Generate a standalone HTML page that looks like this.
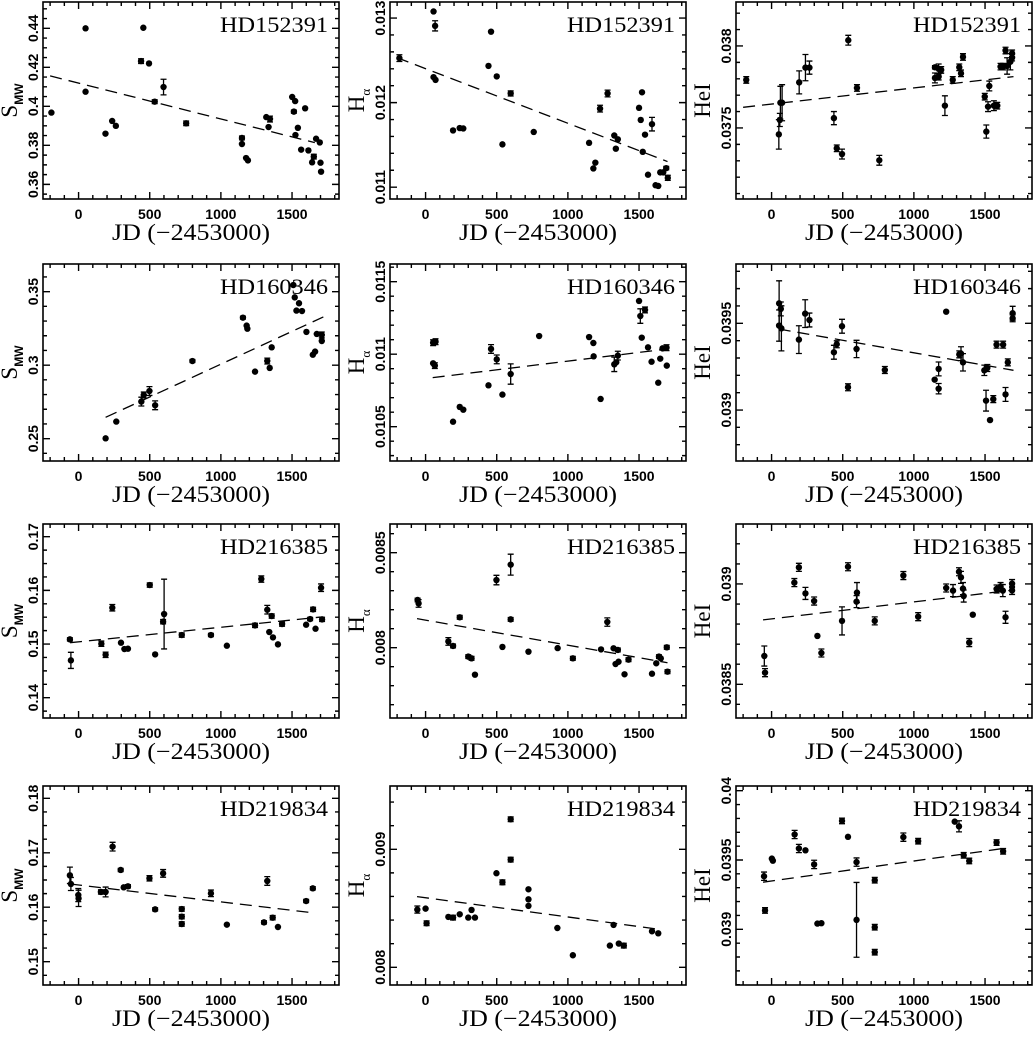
<!DOCTYPE html>
<html><head><meta charset="utf-8"><title>Activity indices vs JD</title>
<style>
html,body{margin:0;padding:0;background:#fff;}
svg{display:block;}
.tk{font-family:"Liberation Sans",sans-serif;font-weight:bold;font-size:14px;fill:#000;}
.sr{font-family:"Liberation Serif",serif;fill:#000;}
</style></head>
<body>
<svg id="fig" xmlns="http://www.w3.org/2000/svg" width="1033" height="1037" viewBox="0 0 1033 1037"></svg>
<script>
// ---------- shared x-axis data ----------
const xTicks = [0, 500, 1000, 1500];
const xTickLabels = ["0", "500", "1000", "1500"];
const xDomain = [-250, 1830];

// ---------- Panel 1: S_MW HD152391 ----------
const p1x = [-191,49,49,189,236,262,439,455,495,535,597,756,1148,1148,1177,1190,1319,1345,1335,1501,1522,1513,1541,1524,1592,1564,1615,1653,1641,1669,1695,1700,1704];
const p1y = [0.3968,0.44,0.4075,0.386,0.3925,0.390,0.4232,0.4403,0.422,0.4024,0.4099,0.3913,0.3838,0.3807,0.3735,0.3723,0.3945,0.3935,0.3894,0.4048,0.4027,0.3973,0.389,0.3853,0.399,0.3778,0.3774,0.3742,0.3713,0.3834,0.3815,0.3711,0.3665];
const p1e = [0,0,0,0,0,0,0.0012,0,0,0.001,0.004,0.0012,0.001,0,0,0,0,0.0015,0,0,0,0.0008,0,0,0,0,0,0.0012,0,0,0,0,0];
const p1fit = [[-200,0.4156],[1660,0.3814]];
const p1yTicks = [0.36,0.38,0.40,0.42,0.44];
const p1yLabels = ["0.36","0.38","0.4","0.42","0.44"];

// ---------- Panel 2: H_alpha HD152391 ----------
const p2x = [-184,56,67,56,70,193,240,265,442,460,500,540,598,760,1149,1179,1193,1226,1279,1326,1351,1337,1500,1521,1512,1526,1542,1591,1563,1616,1635,1649,1670,1691,1702];
const p2y = [0.012526,0.013078,0.012908,0.012301,0.012269,0.011671,0.011699,0.011694,0.012434,0.012839,0.01231,0.011506,0.012108,0.011653,0.011524,0.011221,0.01129,0.011929,0.012108,0.011611,0.011566,0.011455,0.011938,0.012122,0.011795,0.011418,0.011621,0.011745,0.011147,0.011023,0.011014,0.011175,0.011175,0.011225,0.01111];
const p2e = [0.00004,0,0.00006,0,0,0,0,0,0,0,0,0,0.00003,0,0,0,0,0.00004,0.00004,0,0,0,0,0,0,0,0,0.00008,0,0,0,0,0,0.00002,0.00003];
const p2fit = [[-200,0.012531],[1700,0.011303]];
const p2yTicks = [0.011,0.012,0.013];
const p2yLabels = ["0.011","0.012","0.013"];

// ---------- Panel 3: HeI HD152391 ----------
const p3x = [-178,51,58,62,74,194,238,266,438,458,495,539,600,757,1148,1148,1174,1174,1192,1218,1273,1319,1331,1345,1498,1509,1521,1530,1562,1586,1609,1627,1644,1655,1678,1690,1690];
const p3y = [0.037793,0.037461,0.037549,0.037654,0.037654,0.037778,0.037868,0.037868,0.03756,0.037376,0.037341,0.038035,0.037744,0.037303,0.03787,0.037805,0.037813,0.03786,0.037854,0.037636,0.037793,0.03787,0.037833,0.037933,0.037691,0.037478,0.03763,0.037756,0.037636,0.037636,0.037874,0.037874,0.037972,0.037878,0.037904,0.037955,0.037929];
const p3e = [0.00002,0.00009,0.00004,0.0001,0.00011,0.00007,0.00008,0.00004,0.00004,0.00002,0.00003,0.00003,0.00002,0.00003,0.00001,0.00003,0.00002,0.00003,0.00002,0.00006,0.00002,0.00002,0.00002,0.00002,0.00002,0.00004,0.00003,0.00003,0.00003,0.00002,0.00002,0.00002,0.00002,0.00005,0.00005,0.00002,0.00002];
const p3fit = [[-200,0.037626],[1700,0.037813]];
const p3yTicks = [0.0375,0.038];
const p3yLabels = ["0.0375","0.038"];

// ---------- Panel 4: S_MW HD160346 ----------
const p4x = [190,265,441,458,498,538,800,1155,1181,1186,1240,1326,1343,1357,1509,1519,1531,1549,1570,1601,1646,1662,1674,1709,1709];
const p4y = [0.2502,0.2616,0.2752,0.2797,0.2824,0.2727,0.3028,0.3323,0.3269,0.3248,0.2956,0.3028,0.2981,0.3121,0.3545,0.3461,0.3371,0.3421,0.3368,0.3226,0.3071,0.3092,0.3212,0.3205,0.3164];
const p4e = [0,0,0.003,0.002,0.003,0.003,0.001,0.001,0,0,0,0.002,0,0,0,0,0,0,0,0,0,0,0,0.002,0];
const p4fit = [[190,0.2645],[1720,0.3328]];
const p4yTicks = [0.25,0.30,0.35];
const p4yLabels = ["0.25","0.3","0.35"];

// ---------- Panel 5: H_alpha HD160346 ----------
const p5x = [53,70,53,65,193,240,265,442,460,500,540,598,798,1149,1179,1181,1230,1326,1340,1351,1500,1509,1542,1519,1563,1588,1635,1649,1665,1693,1695];
const p5y = [0.011079,0.011086,0.010937,0.010921,0.010534,0.010636,0.010617,0.010785,0.011036,0.010964,0.010721,0.010863,0.011125,0.011118,0.011077,0.010985,0.010691,0.01093,0.010944,0.01099,0.011367,0.011263,0.011305,0.011114,0.011047,0.010948,0.010803,0.010969,0.01104,0.011045,0.010921];
const p5e = [0.00002,0.00002,0,0.00002,0,0,0,0,0.00003,0.00003,0,0.00007,0,0,0,0,0,0.00005,0,0.00003,0,0.00005,0.00002,0,0,0,0,0,0,0.00002,0];
const p5fit = [[50,0.010838],[1700,0.011036]];
const p5yTicks = [0.0105,0.011,0.0115];
const p5yLabels = ["0.0105","0.011","0.0115"];

// ---------- Panel 6: HeI HD160346 ----------
const p6x = [53,53,65,69,192,236,266,438,458,495,537,597,796,1146,1174,1174,1227,1319,1331,1345,1495,1516,1507,1558,1535,1581,1627,1644,1660,1694,1694];
const p6y = [0.039615,0.039487,0.039583,0.039471,0.039406,0.039556,0.039519,0.039333,0.039379,0.039483,0.039131,0.039352,0.039231,0.039175,0.039237,0.039123,0.039567,0.039321,0.039325,0.039275,0.039229,0.039242,0.039054,0.039063,0.038942,0.039377,0.039377,0.03909,0.039275,0.039558,0.039529];
const p6e = [0.00013,0.00009,0.00004,0.00013,0.00008,0.00008,0.00004,0.00004,0.00002,0.00004,0.00002,0.00005,0.00002,0,0.00004,0.00003,0,0.00002,0.00004,0.00005,0.00003,0.00002,0.00006,0.00002,0,0.00002,0.00002,0.00004,0.00002,0.00004,0.00002];
const p6fit = [[50,0.039467],[1700,0.039229]];
const p6yTicks = [0.039,0.0395];
const p6yLabels = ["0.039","0.0395"];

// ---------- Panel 7: S_MW HD216385 ----------
const p7x = [-61,-54,160,190,237,298,322,347,500,538,594,601,725,930,1042,1240,1284,1326,1340,1357,1366,1401,1430,1599,1627,1648,1665,1704,1711];
const p7y = [0.15087,0.14696,0.15006,0.148,0.15677,0.15025,0.14907,0.14913,0.161,0.14807,0.15416,0.15559,0.15168,0.15168,0.14969,0.15348,0.16211,0.1564,0.15224,0.15522,0.15124,0.14994,0.15373,0.1536,0.15466,0.15646,0.15286,0.1605,0.1546];
const p7e = [0.0003,0.0015,0.0005,0.0005,0.0006,0,0,0,0.0004,0,0.0004,0.0065,0.0004,0.0003,0,0.0004,0.0006,0.0008,0,0.0004,0,0,0.0004,0,0.0003,0.0004,0,0.0007,0.0004];
const p7fit = [[-60,0.15025],[1700,0.15503]];
const p7yTicks = [0.14,0.15,0.16,0.17];
const p7yLabels = ["0.14","0.15","0.16","0.17"];

// ---------- Panel 8: H_alpha HD216385 ----------
const p8x = [-56,-49,160,193,240,300,323,347,498,540,598,598,723,928,1035,1233,1277,1321,1351,1335,1356,1426,1398,1591,1621,1640,1653,1695,1700];
const p8y = [0.008251,0.008233,0.008033,0.008009,0.00816,0.007953,0.007944,0.007858,0.008356,0.008004,0.008437,0.008149,0.007979,0.007998,0.007944,0.007991,0.008135,0.007997,0.007988,0.007914,0.007926,0.007937,0.00786,0.007863,0.007918,0.007953,0.007944,0.008002,0.007874];
const p8e = [0.00001,0.00002,0.00002,0.00001,0.00001,0.00001,0.00001,0,0.000025,0,0.000055,0.00001,0,0,0.00001,0,0.000022,0,0.00001,0,0,0.00001,0,0,0,0.00001,0,0.00001,0.00001];
const p8fit = [[-60,0.008153],[1700,0.007921]];
const p8yTicks = [0.008,0.0085];
const p8yLabels = ["0.008","0.0085"];

// ---------- Panel 9: HeI HD216385 ----------
const p9x = [-51,-46,160,192,238,299,322,350,495,537,600,597,725,926,1030,1227,1275,1317,1331,1345,1350,1389,1414,1581,1609,1625,1644,1690,1690];
const p9y = [0.038641,0.038558,0.039007,0.039083,0.038953,0.038915,0.038741,0.038656,0.038816,0.039086,0.038957,0.038912,0.038816,0.039042,0.038837,0.03898,0.038967,0.039061,0.039033,0.038977,0.03894,0.038708,0.038847,0.038975,0.038987,0.038967,0.038834,0.039002,0.038968];
const p9e = [0.00005,0.00002,0.00002,0.00002,0.00003,0.00002,0,0.00002,0.00007,0.00002,0.00005,0.00003,0.00002,0.00002,0.00002,0.00002,0.00003,0.00002,0.00003,0.00003,0.00003,0.00002,0,0.00002,0.00002,0.00003,0.00003,0.00002,0.00002];
const p9fit = [[-60,0.038821],[1700,0.03897]];
const p9yTicks = [0.0385,0.039];
const p9yLabels = ["0.0385","0.039"];

// ---------- Panel 10: S_MW HD219834 ----------
const p10x = [-61,-54,-2,0,157,190,239,296,317,347,498,538,594,725,725,725,930,1042,1303,1326,1364,1401,1599,1646];
const p10y = [0.16586,0.16427,0.16224,0.16163,0.1628,0.1628,0.17112,0.16684,0.16365,0.16384,0.16531,0.15961,0.16622,0.15967,0.15827,0.15692,0.16255,0.1568,0.15722,0.16482,0.15808,0.15637,0.16114,0.16347];
const p10e = [0.0015,0.0012,0.0012,0.0015,0.0004,0.0009,0.0008,0.0003,0,0.0003,0.0005,0.0003,0.0007,0.0004,0.0004,0.0004,0.0006,0,0.0003,0.0008,0.0004,0,0.0003,0.0003];
const p10fit = [[-60,0.16427],[1640,0.159]];
const p10yTicks = [0.15,0.16,0.17,0.18];
const p10yLabels = ["0.15","0.16","0.17","0.18"];

// ---------- Panel 11: H_alpha HD219834 ----------
const p11x = [-58,0,7,160,193,240,300,323,347,498,540,598,598,723,723,723,926,1035,1295,1321,1358,1393,1591,1635];
const p11y = [0.008489,0.008497,0.008373,0.008427,0.008421,0.008449,0.008421,0.008486,0.008421,0.008797,0.00872,0.009254,0.008912,0.008661,0.008576,0.00852,0.008333,0.008102,0.008184,0.008359,0.008201,0.008184,0.008305,0.008288];
const p11e = [0.00003,0,0.00002,0,0.00002,0,0,0,0,0,0.00002,0.00002,0.00002,0,0,0,0,0,0,0,0,0.00002,0,0];
const p11fit = [[-60,0.008599],[1640,0.008322]];
const p11yTicks = [0.008,0.009];
const p11yLabels = ["0.008","0.009"];

// ---------- Panel 12: HeI HD219834 ----------
const p12x = [-53,-46,2,9,162,192,238,299,322,350,495,537,597,597,725,725,725,926,1030,1287,1317,1350,1389,1581,1627];
const p12y = [0.039383,0.039136,0.03951,0.039495,0.039684,0.039583,0.03957,0.039468,0.039041,0.039044,0.039782,0.039667,0.039068,0.039485,0.039354,0.039015,0.038835,0.039665,0.039636,0.039777,0.039743,0.039534,0.039493,0.039626,0.039563];
const p12e = [0.00003,0.00002,0,0,0.00003,0.00003,0,0.00003,0,0,0.00002,0,0.00027,0.00003,0.00002,0.00002,0.00002,0.00003,0.00002,0,0.00004,0.00002,0.00002,0.00002,0.00002];
const p12fit = [[-60,0.03934],[1640,0.039585]];
const p12yTicks = [0.039,0.0395,0.04];
const p12yLabels = ["0.039","0.0395","0.04"];

// ---------- layout (not data) ----------
const NS = "http://www.w3.org/2000/svg";
const svg = document.getElementById("fig");
const colLeft = [43, 390, 736];
const rowTop = [2, 264, 524, 786];
const rowH = [197, 197, 194, 199];
const W = 296;

const panels = [
  {name:"HD152391", q:"S", x:p1x, y:p1y, e:p1e, fit:p1fit, yt:p1yTicks, yl:p1yLabels, yd:[0.3525,0.4535], minor:0.005},
  {name:"HD152391", q:"H", x:p2x, y:p2y, e:p2e, fit:p2fit, yt:p2yTicks, yl:p2yLabels, yd:[0.01086,0.01319], minor:0.0002},
  {name:"HD152391", q:"He", x:p3x, y:p3y, e:p3e, fit:p3fit, yt:p3yTicks, yl:p3yLabels, yd:[0.037067,0.038268], minor:0.0001},
  {name:"HD160346", q:"S", x:p4x, y:p4y, e:p4e, fit:p4fit, yt:p4yTicks, yl:p4yLabels, yd:[0.2348,0.3688], minor:0.01},
  {name:"HD160346", q:"H", x:p5x, y:p5y, e:p5e, fit:p5fit, yt:p5yTicks, yl:p5yLabels, yd:[0.010263,0.011622], minor:0.0001},
  {name:"HD160346", q:"He", x:p6x, y:p6y, e:p6e, fit:p6fit, yt:p6yTicks, yl:p6yLabels, yd:[0.038706,0.039842], minor:0.0001},
  {name:"HD216385", q:"S", x:p7x, y:p7y, e:p7e, fit:p7fit, yt:p7yTicks, yl:p7yLabels, yd:[0.13622,0.17237], minor:0.0025},
  {name:"HD216385", q:"H", x:p8x, y:p8y, e:p8e, fit:p8fit, yt:p8yTicks, yl:p8yLabels, yd:[0.00763,0.008651], minor:0.0001},
  {name:"HD216385", q:"He", x:p9x, y:p9y, e:p9e, fit:p9fit, yt:p9yTicks, yl:p9yLabels, yd:[0.038332,0.039299], minor:0.0001},
  {name:"HD219834", q:"S", x:p10x, y:p10y, e:p10e, fit:p10fit, yt:p10yTicks, yl:p10yLabels, yd:[0.14572,0.18226], minor:0.0025},
  {name:"HD219834", q:"H", x:p11x, y:p11y, e:p11e, fit:p11fit, yt:p11yTicks, yl:p11yLabels, yd:[0.00785,0.009536], minor:0.0002},
  {name:"HD219834", q:"He", x:p12x, y:p12y, e:p12e, fit:p12fit, yt:p12yTicks, yl:p12yLabels, yd:[0.038598,0.040034], minor:0.0001}
];

function mk(tag, attrs, parent){
  const el = document.createElementNS(NS, tag);
  for (const k in attrs) el.setAttribute(k, attrs[k]);
  (parent||svg).appendChild(el);
  return el;
}

panels.forEach((p, i) => {
  const col = i % 3, row = Math.floor(i / 3);
  const L = colLeft[col], T = rowTop[row], H = rowH[row], R = L + W, B = T + H;
  const xs = v => L + (v - xDomain[0]) / (xDomain[1] - xDomain[0]) * W;
  const ys = v => B - (v - p.yd[0]) / (p.yd[1] - p.yd[0]) * H;

  const g = mk("g", {});
  
  

  const fr = mk("rect", {x:L, y:T, width:W, height:H, fill:"none", stroke:"#000", "stroke-width":1.6}, g);
  
  

  let d = "";
  for (let v = -200; v <= 1800; v += 100) {
    const px = xs(v), len = (v % 500 === 0) ? 7 : 4;
    d += `M${px},${B}v${-len}M${px},${T}v${len}`;
  }
  const n0 = Math.ceil(p.yd[0] / p.minor - 1e-6), n1 = Math.floor(p.yd[1] / p.minor + 1e-6);
  for (let n = n0; n <= n1; n++) {
    const v = n * p.minor;
    const major = p.yt.some(t => Math.abs(t - v) < p.minor * 0.01);
    const py = ys(v), len = major ? 7 : 4;
    d += `M${L},${py}h${len}M${R},${py}h${-len}`;
  }
  const tk = mk("path", {d:d, stroke:"#000", "stroke-width":1.4, fill:"none"}, g);
  
  

  xTicks.forEach((v, k) => {
    const t = mk("text", {x:xs(v), y:B + 20, "text-anchor":"middle", class:"tk"}, g);
    t.textContent = xTickLabels[k];
    
    
  });
  p.yt.forEach((v, k) => {
    const py = ys(v);
    const t = mk("text", {x:0, y:0, "text-anchor":"middle", class:"tk",
      transform:`translate(${L - 5},${py}) rotate(-90)`}, g);
    t.textContent = p.yl[k];
    
    
  });

  const xt = mk("text", {x:L + W / 2, y:B + 41, "text-anchor":"middle", class:"sr",
    "font-size":23, textLength:158, lengthAdjust:"spacingAndGlyphs"}, g);
  xt.textContent = "JD (\u22122453000)";
  
  

  const yt = mk("text", {x:0, y:0, "text-anchor":"middle", class:"sr", "font-size":23,
    transform:`translate(${L - 26},${T + H / 2}) rotate(-90)`}, g);
  if (p.q === "S") {
    yt.innerHTML = 'S<tspan font-size="12" font-family="Liberation Sans, sans-serif" font-weight="bold" dy="6">MW</tspan>';
  } else if (p.q === "H") {
    yt.innerHTML = 'H<tspan font-size="13" dy="6">\u03b1</tspan>';
  } else {
    yt.textContent = "HeI";
  }
  
  

  const sl = mk("text", {x:R - 11, y:T + 30, "text-anchor":"end", class:"sr", "font-size":22,
    textLength:108, lengthAdjust:"spacingAndGlyphs"}, g);
  sl.textContent = p.name;
  
  

  const fl = mk("line", {x1:xs(p.fit[0][0]), y1:ys(p.fit[0][1]), x2:xs(p.fit[1][0]), y2:ys(p.fit[1][1]),
    stroke:"#000", "stroke-width":1.3, "stroke-dasharray":"12,7"}, g);
  
  

  p.x.forEach((xv, k) => {
    const cx = xs(xv), cy = ys(p.y[k]);
    if (p.e[k] > 0) {
      const yt2 = ys(p.y[k] + p.e[k]), yb = ys(p.y[k] - p.e[k]);
      const eb = mk("path", {d:`M${cx},${yt2}V${yb}M${cx-3},${yt2}h6M${cx-3},${yb}h6`,
        stroke:"#000", "stroke-width":1.3, fill:"none"}, g);
      
      
    }
    const c = mk("circle", {cx:cx, cy:cy, r:3.2, fill:"#000"}, g);
    
    
  });
});
</script>
</body></html>
